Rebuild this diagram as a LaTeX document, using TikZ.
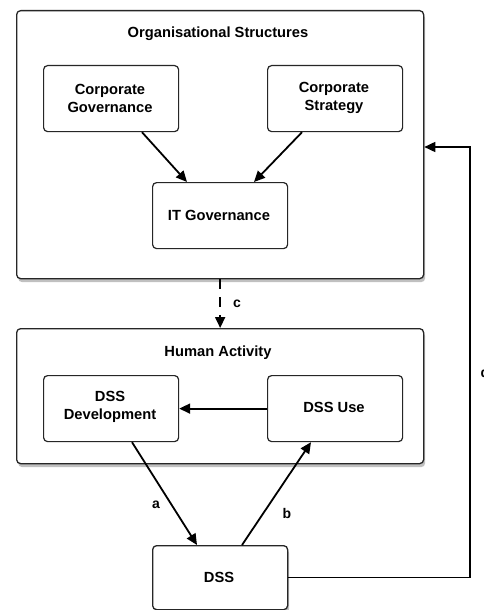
\documentclass[tikz,border=0pt]{standalone}
\usepackage{fontspec}
\setmainfont{Liberation Sans}
\usetikzlibrary{arrows.meta,shadows}
\begin{document}
\begin{tikzpicture}[x=1pt,y=-1pt,
  font=\fontsize{14.7}{18}\selectfont\bfseries,
  container/.style={draw=black!85,line width=1.3pt,rounded corners=4pt,fill=white,
    drop shadow={shadow xshift=1.5pt,shadow yshift=-3.5pt,opacity=0.45,fill=black!55}},
  inner/.style={draw=black!85,line width=1.2pt,rounded corners=4pt,fill=white},
  flow/.style={line width=1.8pt,-{Triangle[length=11pt,width=10pt]}},
  lab/.style={font=\fontsize{14}{16}\selectfont\bfseries,inner sep=0pt}]
\useasboundingbox (0,0) rectangle (483,610);
% containers
\node[container,minimum width=407pt,minimum height=268pt,anchor=north west] (org) at (16,10) {};
\node[anchor=center] (orgt) at (218,34) {Organisational Structures};
\node[container,minimum width=407pt,minimum height=135pt,anchor=north west] (hum) at (16,328) {};
\node[anchor=center] (humt) at (218,353) {Human Activity};
% inner boxes
\node[inner,minimum width=135pt,minimum height=66pt,anchor=north west] (cg) at (43,65) {};
\node[align=center] (cgt) at (110,98) {Corporate\\Governance};
\node[inner,minimum width=135pt,minimum height=66pt,anchor=north west] (cs) at (267,65) {};
\node[align=center] (cst) at (334,98) {Corporate\\Strategy};
\node[inner,minimum width=135pt,minimum height=66pt,anchor=north west] (it) at (152,182) {};
\node (itt) at (219,215) {IT Governance};
\node[inner,minimum width=135pt,minimum height=66pt,anchor=north west] (dev) at (43,375) {};
\node[align=center] (devt) at (110,407) {DSS\\Development};
\node[inner,minimum width=135pt,minimum height=66pt,anchor=north west] (use) at (267,375) {};
\node (uset) at (334,407) {DSS Use};
\node[container,minimum width=135pt,minimum height=64pt,anchor=north west] (dss) at (152,545) {};
\node (dsst) at (219,577) {DSS};
% connectors
\draw[flow] (cg.south -| 142,0) -- (it.north -| 187,0);
\draw[flow] (cs.south -| 302,0) -- (it.north -| 254,0);
\draw[flow,dash pattern=on 10pt off 8pt] (org.south) -- (hum.north);
\node[lab] (lc) at (237,304) {c};
\draw[flow] (use.west) -- (dev.east);
\draw[flow] (dev.south -| 132,0) -- (dss.north -| 197,0);
\node[lab] (la) at (156,505) {a};
\draw[flow] (dss.north -| 242,0) -- (use.south -| 311,0);
\node[lab] (lb) at (287,513) {b};
\coordinate (fb) at (470,147);
\draw[flow,line width=1.6pt] (dss.east) -| (fb) -- (org.east |- fb);
\node[lab,anchor=west] (ld) at (480.5,372) {d};
\end{tikzpicture}
\end{document}
